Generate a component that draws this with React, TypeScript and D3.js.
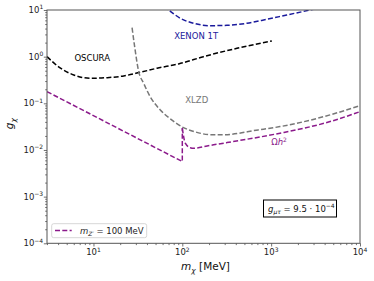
import React, { useEffect, useRef } from "react";
import * as d3 from "d3";

// OSCURA projection: dark matter mass [MeV] and coupling g_chi
const oscuraMass = [3, 4.26, 6.0, 9.25, 14.3, 21.9, 33.7, 52, 90.8, 173, 412, 1018];
const oscuraG = [1.0, 0.565, 0.406, 0.344, 0.355, 0.386, 0.463, 0.565, 0.698, 1.0, 1.51, 2.17];

// XENON 1T limit (runs past the top of the frame)
const xenonMass = [62, 70.2, 95, 134, 206, 318, 533, 895, 1500, 2742, 3300];
const xenonG = [11.8, 10, 6.64, 5.19, 4.61, 4.7, 5.19, 6.32, 7.82, 10, 10.8];

// XLZD projection
const xlzdMass = [27.2, 28.9, 32.3, 36.7, 43.7, 56.6, 73.3, 99.3, 140, 206, 290, 714, 1259, 4603, 10000];
const xlzdG = [4.18, 1.78, 0.478, 0.269, 0.137, 0.072, 0.0464, 0.0313, 0.0244, 0.0213, 0.0212, 0.0269, 0.0317, 0.0565, 0.0893];

// relic abundance line, m_Z' = 100 MeV (jump at the resonance)
const relicMass = [3, 100, 100, 108, 123, 134, 190, 318, 1259, 4603, 10000];
const relicG = [0.178, 0.00565, 0.0293, 0.014, 0.0112, 0.0109, 0.0122, 0.0144, 0.0229, 0.0406, 0.0662];

const xMajor = [10, 100, 1000, 10000];
const xMajorExp = ["1", "2", "3", "4"];
const yMajor = [1e-4, 1e-3, 1e-2, 1e-1, 1, 10];
const yMajorExp = ["\u22124", "\u22123", "\u22122", "\u22121", "0", "1"];

const W = 374, H = 281;
const FONT = "DejaVu Sans";

export default function App() {
    const ref = useRef<SVGSVGElement>(null);

    useEffect(() => {
        const margin = { top: 10, right: 14, bottom: 37.7, left: 47 },
            w = W - margin.left - margin.right,
            h = H - margin.top - margin.bottom;

        const svg = d3.select(ref.current);
        svg.selectAll("*").remove();
        const g = svg.append("g").attr("transform", `translate(${margin.left}, ${margin.top})`);

        const x = d3.scaleLog().domain([3, 1e4]).range([0, w]);
        const y = d3.scaleLog().domain([1e-4, 10]).range([h, 0]);

        g.append("clipPath").attr("id", "plotclip")
            .append("rect").attr("width", w).attr("height", h);

        // minor ticks
        const xMinor: number[] = [];
        [1, 10, 100, 1000].forEach(d => { for (let k = 2; k <= 9; k++) if (d * k >= 3) xMinor.push(d * k); });
        const yMinor: number[] = [];
        [1e-4, 1e-3, 1e-2, 1e-1, 1].forEach(d => { for (let k = 2; k <= 9; k++) yMinor.push(d * k); });

        const tickStyle = (sel: any) => {
            sel.select(".domain").remove();
            sel.selectAll("line").attr("stroke", "#333").attr("stroke-width", 0.7);
        };

        g.append("g").attr("transform", `translate(0, ${h})`)
            .call(d3.axisBottom(x).tickValues(xMinor).tickSize(1.8).tickFormat(() => ""))
            .call(tickStyle);
        g.append("g").attr("transform", `translate(0, ${h})`)
            .call(d3.axisBottom(x).tickValues(xMajor).tickSize(3.2).tickFormat(() => ""))
            .call(tickStyle);
        g.append("g")
            .call(d3.axisLeft(y).tickValues(yMinor).tickSize(1.8).tickFormat(() => ""))
            .call(tickStyle);
        g.append("g")
            .call(d3.axisLeft(y).tickValues(yMajor).tickSize(3.2).tickFormat(() => ""))
            .call(tickStyle);

        // tick labels 10^n
        xMajor.forEach((v, i) => {
            const t = g.append("text").attr("x", x(v)).attr("y", h + 12)
                .attr("text-anchor", "middle").attr("font-family", FONT).attr("font-size", 8.5).attr("fill", "#222");
            t.append("tspan").text("10");
            t.append("tspan").attr("dy", -3.8).attr("font-size", 6).text(xMajorExp[i]);
        });
        yMajor.forEach((v, i) => {
            const t = g.append("text").attr("x", -3.8).attr("y", y(v) + 3)
                .attr("text-anchor", "end").attr("font-family", FONT).attr("font-size", 8.5).attr("fill", "#222");
            t.append("tspan").text("10");
            t.append("tspan").attr("dy", -3.8).attr("font-size", 6).text(yMajorExp[i]);
        });

        // curves
        const lineOf = (curve: any) => d3.line<[number, number]>()
            .x(d => x(d[0])).y(d => y(d[1])).curve(curve);
        const zip = (a: number[], b: number[]) => a.map((m, i) => [m, b[i]] as [number, number]);
        const curves = g.append("g").attr("clip-path", "url(#plotclip)");

        const draw = (pts: [number, number][], color: string, curve: any) =>
            curves.append("path").attr("d", lineOf(curve)(pts)!)
                .attr("fill", "none").attr("stroke", color).attr("stroke-width", 1.5)
                .attr("stroke-dasharray", "5,2.3");

        draw(zip(oscuraMass, oscuraG), "#000", d3.curveMonotoneX);
        draw(zip(xenonMass, xenonG), "#1a1a9c", d3.curveMonotoneX);
        draw(zip(xlzdMass, xlzdG), "#777", d3.curveMonotoneX);
        const relic = zip(relicMass, relicG);
        draw(relic.slice(0, 3), "#8b1a8b", d3.curveLinear);
        draw(relic.slice(2), "#8b1a8b", d3.curveMonotoneX);

        // curve labels
        const label = (m: number, gv: number, color: string) =>
            g.append("text").attr("x", x(m)).attr("y", y(gv))
                .attr("font-family", FONT).attr("font-size", 8.5).attr("fill", color);
        label(6.1, 0.8, "#000").text("OSCURA");
        label(81, 2.4, "#1a1a9c").text("XENON 1T");
        label(108, 0.1, "#777").text("XLZD");
        const om = label(1000, 0.0125, "#8b1a8b");
        om.append("tspan").text("\u03A9");
        om.append("tspan").attr("font-style", "italic").text("h");
        om.append("tspan").attr("dy", -3.8).attr("font-size", 6).text("2");

        // frame
        g.append("rect").attr("width", w).attr("height", h)
            .attr("fill", "none").attr("stroke", "#555").attr("stroke-width", 1);

        // legend
        const lg = g.append("g").attr("transform", `translate(${4.7}, ${h - 19.6})`);
        lg.append("rect").attr("width", 95).attr("height", 14).attr("rx", 2)
            .attr("fill", "#fff").attr("fill-opacity", 0.8).attr("stroke", "#ccc").attr("stroke-width", 0.8);
        lg.append("line").attr("x1", 3.3).attr("x2", 20).attr("y1", 6.8).attr("y2", 6.8)
            .attr("stroke", "#8b1a8b").attr("stroke-width", 1.5).attr("stroke-dasharray", "5,2.3");
        const lt = lg.append("text").attr("x", 28.3).attr("y", 10)
            .attr("font-family", FONT).attr("font-size", 8.5).attr("fill", "#222");
        lt.append("tspan").attr("font-style", "italic").text("m");
        lt.append("tspan").attr("dy", 2).attr("font-size", 6).attr("font-style", "italic").text("Z\u2032");
        lt.append("tspan").attr("dy", -2).text(" = 100 MeV");

        // coupling box
        const bx = g.append("g").attr("transform", `translate(${263.5 - margin.left}, ${200 - margin.top})`);
        bx.append("rect").attr("width", 73).attr("height", 17)
            .attr("fill", "#fff").attr("stroke", "#000").attr("stroke-width", 1);
        const bt = bx.append("text").attr("x", 4.5).attr("y", 11.5)
            .attr("font-family", FONT).attr("font-size", 8.5).attr("fill", "#111");
        bt.append("tspan").attr("font-style", "italic").text("g");
        bt.append("tspan").attr("dy", 2).attr("font-size", 6).attr("font-style", "italic").text("\u03BC\u03C4");
        bt.append("tspan").attr("dy", -2).text(" = 9.5 \u00B7 10");
        bt.append("tspan").attr("dy", -3.8).attr("font-size", 6).text("\u22124");

        // axis labels
        const xl = g.append("text").attr("x", w / 2 + 2).attr("y", h + 27)
            .attr("text-anchor", "middle").attr("font-family", FONT).attr("font-size", 10.5).attr("fill", "#111");
        xl.append("tspan").attr("font-style", "italic").text("m");
        xl.append("tspan").attr("dy", 2.5).attr("font-size", 7.5).attr("font-style", "italic").text("\u03C7");
        xl.append("tspan").attr("dy", -2.5).text(" [MeV]");

        const yl = g.append("text").attr("transform", `translate(${-34}, ${h / 2 - 3}) rotate(-90)`)
            .attr("text-anchor", "middle").attr("font-family", FONT).attr("font-size", 10.5).attr("fill", "#111");
        yl.append("tspan").attr("font-style", "italic").text("g");
        yl.append("tspan").attr("dy", 2.5).attr("font-size", 7.5).attr("font-style", "italic").text("\u03C7");
    }, []);

    return (
        <svg ref={ref} width={W} height={H}
            style={{ position: "absolute", left: 0, top: 0, background: "#fff" }} />
    );
}
